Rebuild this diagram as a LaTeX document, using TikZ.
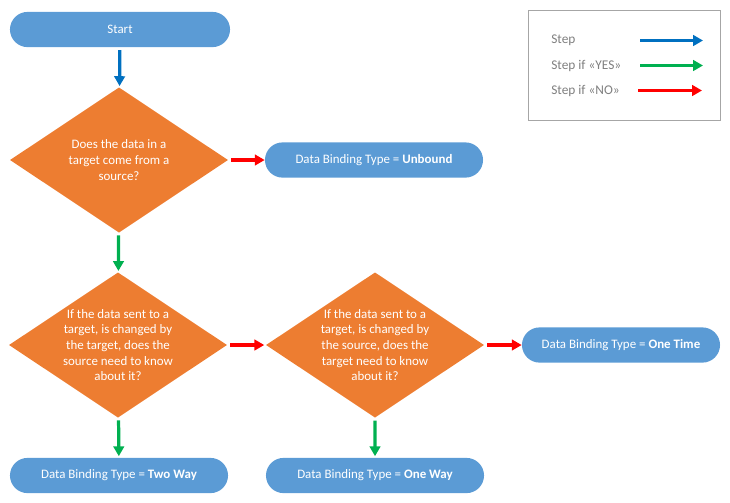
\documentclass[tikz,border=0pt]{standalone}
\usepackage{fontspec}
\setmainfont{Carlito}
\usetikzlibrary{arrows.meta,positioning}
\usetikzlibrary{shapes.geometric,shapes.misc}
\definecolor{termblue}{HTML}{5B9BD5}
\definecolor{askorange}{HTML}{ED7D31}
\definecolor{stepblue}{HTML}{0070C0}
\definecolor{yesgreen}{HTML}{00B050}
\definecolor{nored}{HTML}{FF0000}
\definecolor{legendgray}{HTML}{7F7F7F}
\definecolor{framegray}{HTML}{A6A6A6}
\tikzset{
  term node/.style={
    rounded rectangle,
    fill=termblue,
    text=white,
    inner sep=0pt,
    minimum width=5.45cm,
    minimum height=0.88cm,
    font=\fontsize{9.2}{11}\selectfont
  },
  question node/.style={
    diamond,
    aspect=1.5,
    fill=askorange,
    text=white,
    inner sep=-3pt,
    align=center,
    minimum width=5.45cm,
    minimum height=3.63cm,
    font=\fontsize{9.2}{11.1}\selectfont
  },
  flow line/.style={
    line width=2.3pt,
    -{Triangle[length=7pt,width=7.5pt]},
    shorten <=2pt,
    shorten >=1pt
  },
  step line/.style={flow line, draw=stepblue},
  yes line/.style={flow line, draw=yesgreen},
  no line/.style={flow line, draw=nored},
  legend text/.style={
    anchor=west,
    inner sep=0pt,
    text=legendgray,
    font=\fontsize{9.5}{11}\selectfont
  }
}

\begin{document}
\begin{tikzpicture}[x=0.025cm, y=-0.025cm]

  \useasboundingbox (0, 0) rectangle (730, 502);

  % flow chart
  \node[term node, minimum width=5.5cm] (start) at (120, 29.5) {Start};

  \node[question node] (q1) at (119, 160) {Does the data in a\\ target come from a\\ source?};
  \node[term node] (unbound) at (374, 160) {Data Binding Type = \textbf{Unbound}};

  \node[question node] (q2) at (118, 345) {If the data sent to a\\ target, is changed by\\ the target, does the\\ source need to know\\ about it?};
  \node[question node] (q3) at (375, 345) {If the data sent to a\\ target, is changed by\\ the source, does the\\ target need to know\\ about it?};
  \node[term node, minimum width=4.95cm] (onetime) at (621, 345) {Data Binding Type = \textbf{One Time}};

  \node[term node] (twoway) at (119, 475.5) {Data Binding Type = \textbf{Two Way}};
  \node[term node] (oneway) at (375, 475.5) {Data Binding Type = \textbf{One Way}};

  \draw[step line] (start) -- (q1);
  \draw[no line, shorten >=0pt] (q1) -- (unbound);
  \draw[yes line] (q1) -- (q2);
  \draw[no line] (q2) -- (q3);
  \draw[no line, shorten >=0pt] (q3) -- (onetime);
  \draw[yes line] (q2) -- (twoway);
  \draw[yes line] (q3) -- (oneway);

  % legend
  \node[draw=framegray, line width=1pt, minimum width=4.8cm, minimum height=2.75cm] (legend) at (624.5, 65.5) {};

  \node[legend text] (lstep) at (551, 40.5) {Step};
  \node[legend text] (lyes) at (551, 65.5) {Step if «YES»};
  \node[legend text] (lno) at (551, 90.5) {Step if «NO»};

  \coordinate (stepa) at (640, 40.5);
  \coordinate (stepb) at (703, 40.5);
  \coordinate (yesa) at (640, 65.5);
  \coordinate (yesb) at (703, 65.5);
  \coordinate (noa) at (638, 90.5);
  \coordinate (nob) at (702, 90.5);

  \draw[step line, shorten <=0pt, shorten >=0pt] (stepa) -- (stepb);
  \draw[yes line, shorten <=0pt, shorten >=0pt] (yesa) -- (yesb);
  \draw[no line, shorten <=0pt, shorten >=0pt] (noa) -- (nob);

\end{tikzpicture}
\end{document}
